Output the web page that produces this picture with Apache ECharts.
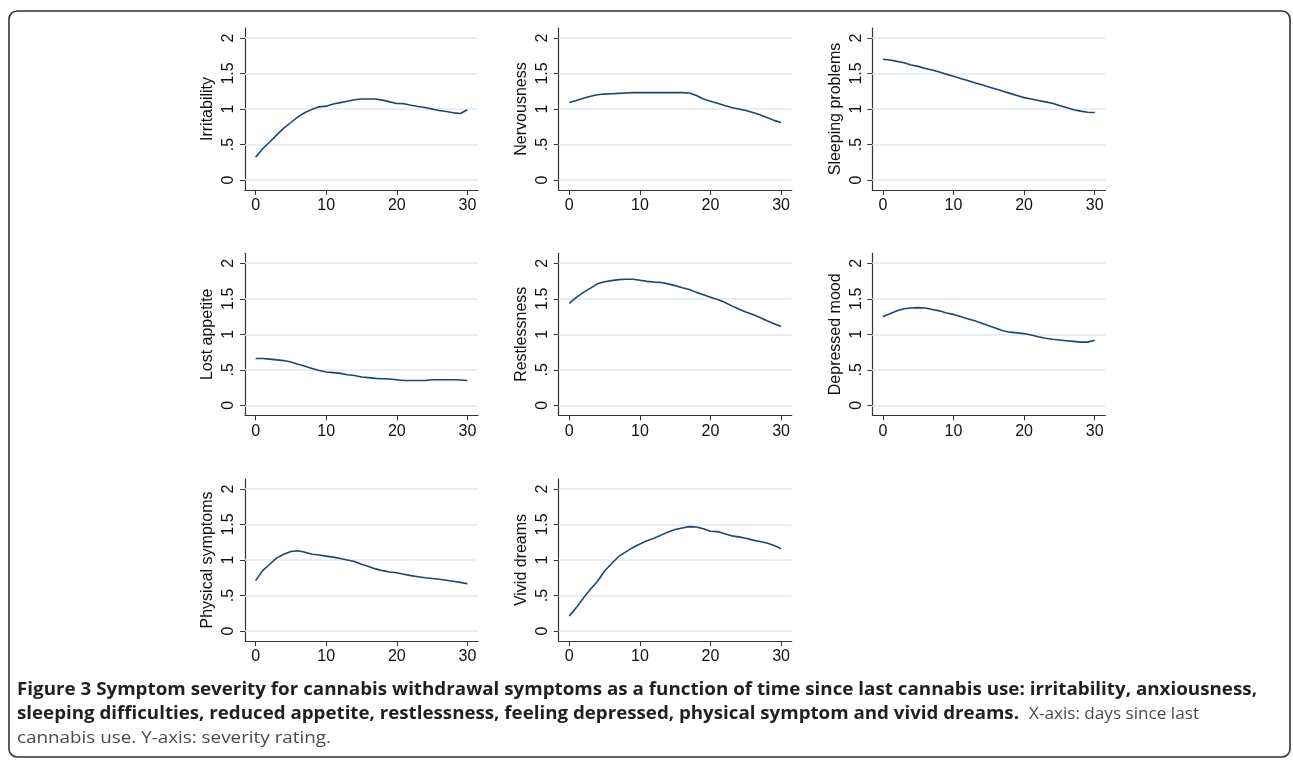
<!DOCTYPE html>
<html>
<head>
<meta charset="utf-8">
<script src="https://cdn.jsdelivr.net/npm/echarts@6/dist/echarts.min.js"></script>
<style>
html,body{margin:0;padding:0;background:#fff;}
#chart{width:1293px;height:761px;}
</style>
</head>
<body>
<div id="chart"></div>
<script>
// ---- data ----
const days = [0,1,2,3,4,5,6,7,8,9,10,11,12,13,14,15,16,17,18,19,20,21,22,23,24,25,26,27,28,29,30];
const xTicks = [0,10,20,30];
const yTicks = [0,0.5,1,1.5,2];
const yTickLabels = ["0",".5","1","1.5","2"];
const titles = ["Irritability","Nervousness","Sleeping problems","Lost appetite","Restlessness","Depressed mood","Physical symptoms","Vivid dreams"];

const irritability = [0.32,0.44,0.535,0.635,0.73,0.81,0.89,0.95,0.995,1.03,1.04,1.07,1.09,1.11,1.13,1.14,1.14,1.14,1.125,1.10,1.078,1.075,1.054,1.035,1.02,1.0,0.98,0.965,0.946,0.937,0.99];
const nervousness = [1.09,1.12,1.15,1.18,1.20,1.21,1.215,1.22,1.225,1.23,1.23,1.23,1.23,1.23,1.23,1.23,1.23,1.225,1.19,1.14,1.11,1.08,1.05,1.02,1.00,0.98,0.95,0.92,0.88,0.84,0.81];
const sleepingProblems = [1.70,1.69,1.67,1.65,1.62,1.60,1.57,1.55,1.52,1.49,1.46,1.43,1.40,1.37,1.34,1.31,1.28,1.25,1.22,1.19,1.16,1.14,1.12,1.10,1.08,1.05,1.02,0.99,0.97,0.955,0.95];
const lostAppetite = [0.66,0.66,0.65,0.64,0.63,0.61,0.58,0.55,0.52,0.49,0.47,0.46,0.45,0.43,0.42,0.40,0.39,0.38,0.375,0.37,0.36,0.35,0.35,0.35,0.35,0.36,0.36,0.36,0.36,0.357,0.35];
const restlessness = [1.434,1.52,1.59,1.65,1.71,1.74,1.755,1.77,1.775,1.775,1.76,1.745,1.735,1.73,1.71,1.685,1.655,1.63,1.59,1.555,1.52,1.49,1.45,1.40,1.355,1.315,1.28,1.235,1.19,1.15,1.11];
const depressedMood = [1.25,1.29,1.33,1.36,1.37,1.375,1.37,1.35,1.33,1.30,1.28,1.25,1.22,1.19,1.155,1.12,1.085,1.05,1.03,1.02,1.01,0.99,0.965,0.945,0.93,0.92,0.91,0.90,0.89,0.89,0.915];
const physicalSymptoms = [0.71,0.85,0.94,1.03,1.08,1.12,1.13,1.11,1.08,1.07,1.055,1.04,1.02,1.00,0.98,0.94,0.91,0.875,0.85,0.83,0.82,0.80,0.78,0.765,0.75,0.74,0.73,0.715,0.70,0.685,0.665];
const vividDreams = [0.21,0.33,0.465,0.587,0.70,0.845,0.95,1.05,1.115,1.175,1.225,1.27,1.305,1.35,1.395,1.43,1.45,1.47,1.465,1.44,1.405,1.40,1.37,1.34,1.325,1.305,1.28,1.26,1.24,1.205,1.16];

const seriesValues = [irritability,nervousness,sleepingProblems,lostAppetite,restlessness,depressedMood,physicalSymptoms,vividDreams];

const captionL1 = "Figure 3 Symptom severity for cannabis withdrawal symptoms as a function of time since last cannabis use: irritability, anxiousness,";
const captionL2b = "sleeping difficulties, reduced appetite, restlessness, feeling depressed, physical symptom and vivid dreams.";
const captionL2n = "X-axis: days since last";
const captionL3 = "cannabis use. Y-axis: severity rating.";

// ---- layout ----
const colLeft = [245, 558.7, 872.3];
const rowTop = [28, 253.3, 479];
const W = 233, H = 162;
const LINE = '#1a476f', AX = '#333333', GRID = '#e0e9ed';
const FONT = "'Liberation Sans', Arial, Helvetica, sans-serif";

const grids = [], xAxes = [], yAxes = [], series = [];
seriesValues.forEach((vals, i) => {
  const r = Math.floor(i/3), c = i%3;
  grids.push({left: colLeft[c], top: rowTop[r], width: W, height: H, containLabel: false});
  xAxes.push({
    type: 'value', gridIndex: i, min: -1.5, max: 31.5,
    axisLine: {onZero: false, lineStyle: {color: AX, width: 1.2}},
    axisTick: {customValues: xTicks, length: 5, lineStyle: {color: AX, width: 1}},
    axisLabel: {customValues: xTicks, color: '#111', fontSize: 16, fontFamily: FONT, margin: 8},
    splitLine: {show: false}
  });
  yAxes.push({
    type: 'value', gridIndex: i, min: -0.14, max: 2.14,
    name: titles[i], nameLocation: 'middle', nameRotate: 90, nameGap: 29,
    nameTextStyle: {color: '#111', fontSize: 16, fontFamily: FONT},
    axisLine: {show: true, onZero: false, lineStyle: {color: AX, width: 1.2}},
    axisTick: {show: true, customValues: yTicks, length: 5, lineStyle: {color: AX, width: 1}},
    axisLabel: {customValues: yTicks, rotate: 90, color: '#111', fontSize: 16, fontFamily: FONT, margin: 8,
      formatter: v => { const k = yTicks.findIndex(t => Math.abs(t - v) < 1e-6); return k >= 0 ? yTickLabels[k] : ''; }},
    splitLine: {show: false}
  });
  series.push({
    type: 'line', xAxisIndex: i, yAxisIndex: i,
    data: days.map((d, k) => [d, vals[k]]),
    showSymbol: false, smooth: false,
    lineStyle: {color: LINE, width: 1.6},
    z: 3,
    markLine: {
      silent: true, symbol: ['none','none'], label: {show: false}, animation: false,
      lineStyle: {color: GRID, width: 1.5, type: 'solid'},
      data: yTicks.map(t => ({yAxis: t})),
      z: 1
    }
  });
});

// ---- caption (each run scaled to span the same width as in the reference) ----
const cv = document.createElement('canvas').getContext('2d');
const CFONT = "'Open Sans', 'Liberation Sans', sans-serif";
const BSIZE = 17, NSIZE = 17;
function tw(txt, weight, size){ cv.font = weight + ' ' + size + 'px ' + CFONT; return cv.measureText(txt).width; }
function run(x0, x1, y, txt, bold){
  const size = bold ? BSIZE : NSIZE;
  const w = tw(txt, bold ? 'bold' : 'normal', size);
  return {type: 'text', x: x0, y: y, scaleX: (x1 - x0) / w, scaleY: 1, originX: 0, originY: 0,
    silent: true,
    style: {text: txt, fontFamily: CFONT, fontWeight: bold ? 'bold' : 'normal', fontSize: size,
      fill: bold ? '#231f20' : '#4a4a4a', verticalAlign: 'middle', align: 'left'}};
}

const graphic = [
  {type: 'rect', shape: {x: 9, y: 11, width: 1281, height: 746, r: 8},
   style: {fill: 'none', stroke: '#333', lineWidth: 1.6}, z: -1, silent: true},
  run(17, 1257, 690, captionL1, true),
  run(17, 1019, 714, captionL2b, true),
  run(1029, 1199, 714, captionL2n, false),
  run(17, 331, 738, captionL3, false)
];

const chart = echarts.init(document.getElementById('chart'), null, {renderer: 'canvas'});
chart.setOption({
  animation: false,
  backgroundColor: '#fff',
  grid: grids, xAxis: xAxes, yAxis: yAxes, series: series,
  graphic: graphic
});
</script>
</body>
</html>
